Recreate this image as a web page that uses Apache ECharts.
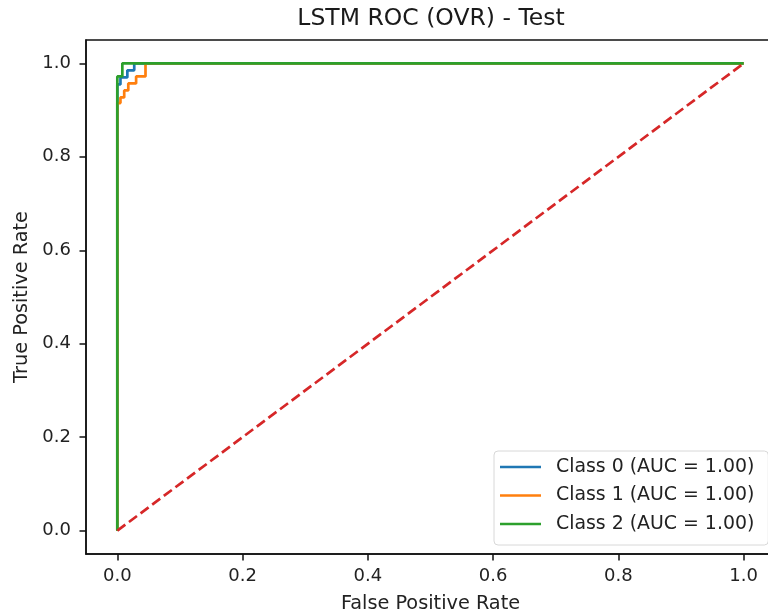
<!DOCTYPE html>
<html><head><meta charset="utf-8">
<script src="https://cdn.jsdelivr.net/npm/echarts@6/dist/echarts.min.js"></script>
<style>html,body{margin:0;padding:0;background:#fff}#c{width:768px;height:615px}</style>
</head><body><div id="c"></div>
<script>
var titleText = "LSTM ROC (OVR) - Test";
var xName = "False Positive Rate";
var yName = "True Positive Rate";
var tickValues = [0, 0.2, 0.4, 0.6, 0.8, 1.0];
var classNames = ["Class 0 (AUC = 1.00)", "Class 1 (AUC = 1.00)", "Class 2 (AUC = 1.00)"];
var fpr0 = [0, 0, 0.005, 0.005, 0.016, 0.016, 0.027, 0.027, 1];
var tpr0 = [0, 0.955, 0.955, 0.97, 0.97, 0.985, 0.985, 1.0, 1.0];
var fpr1 = [0, 0, 0.005, 0.005, 0.011, 0.011, 0.0175, 0.0175, 0.030, 0.030, 0.045, 0.045, 1];
var tpr1 = [0, 0.915, 0.915, 0.927, 0.927, 0.942, 0.942, 0.957, 0.957, 0.972, 0.972, 1.0, 1.0];
var fpr2 = [0, 0, 0.008, 0.008, 1];
var tpr2 = [0, 0.972, 0.972, 1.0, 1.0];
var diagX = [0, 1];
var diagY = [0, 1];
var colors = ["#1f77b4", "#ff7f0e", "#2ca02c", "#d62728"];

function pairs(xs, ys){ return xs.map(function(x,i){ return [x, ys[i]]; }); }
var font = "DejaVu Sans";
var chart = echarts.init(document.getElementById('c'));
var fmt = function(v){ return v.toFixed(1); };
var lw = 2.7;
chart.setOption({
  animation: false,
  title: { text: titleText, left: 426, top: 2, textAlign: 'center',
    textStyle: { fontFamily: font, fontSize: 23.5, fontWeight: 'normal', color: '#1a1a1a' } },
  grid: { left: 86, top: 40, width: 689, height: 514, outerBoundsMode: 'none', containLabel: false,
    show: true, borderColor: '#111', borderWidth: 1.5, backgroundColor: '#fff' },
  legend: {
    data: classNames, orient: 'vertical', left: 494, top: 451,
    backgroundColor: '#fff', borderColor: '#d8d8d8', borderWidth: 1, borderRadius: 4,
    padding: [6, 14, 11, 6], itemGap: 8.5, itemWidth: 41, itemHeight: 2.7, icon: 'rect',
    textStyle: { fontFamily: font, fontSize: 18.9, lineHeight: 20, color: '#222', padding: [0,0,0,10] }
  },
  xAxis: {
    type: 'value', min: -0.05, max: 1.05,
    name: xName, nameLocation: 'middle', nameGap: 40,
    nameTextStyle: { fontFamily: font, fontSize: 19.3, color: '#222' },
    splitLine: { show: false },
    axisLine: { onZero: false, lineStyle: { color: '#111', width: 1.5 } },
    axisTick: { customValues: tickValues, length: 6.5, lineStyle: { color: '#111', width: 1.5 } },
    axisLabel: { customValues: tickValues, formatter: fmt, fontFamily: font, fontSize: 18, color: '#222', margin: 13 }
  },
  yAxis: {
    type: 'value', min: -0.05, max: 1.05,
    name: yName, nameLocation: 'middle', nameGap: 51, nameRotate: 90,
    nameTextStyle: { fontFamily: font, fontSize: 19.3, color: '#222' },
    splitLine: { show: false },
    axisLine: { show: true, onZero: false, lineStyle: { color: '#111', width: 1.5 } },
    axisTick: { show: true, customValues: tickValues, length: 6.5, lineStyle: { color: '#111', width: 1.5 } },
    axisLabel: { customValues: tickValues, formatter: fmt, fontFamily: font, fontSize: 18, color: '#222', margin: 15 }
  },
  series: [
    { name: classNames[0], type: 'line', data: pairs(fpr0, tpr0), showSymbol: false, symbol: 'none', lineStyle: { color: colors[0], width: lw }, itemStyle: { color: colors[0] } },
    { name: classNames[1], type: 'line', data: pairs(fpr1, tpr1), showSymbol: false, symbol: 'none', lineStyle: { color: colors[1], width: lw }, itemStyle: { color: colors[1] } },
    { name: classNames[2], type: 'line', data: pairs(fpr2, tpr2), showSymbol: false, symbol: 'none', lineStyle: { color: colors[2], width: lw }, itemStyle: { color: colors[2] } },
    { name: 'diag', type: 'line', data: pairs(diagX, diagY), showSymbol: false, symbol: 'none', lineStyle: { color: colors[3], width: lw, type: [10, 4.5] } }
  ]
});
</script></body></html>
